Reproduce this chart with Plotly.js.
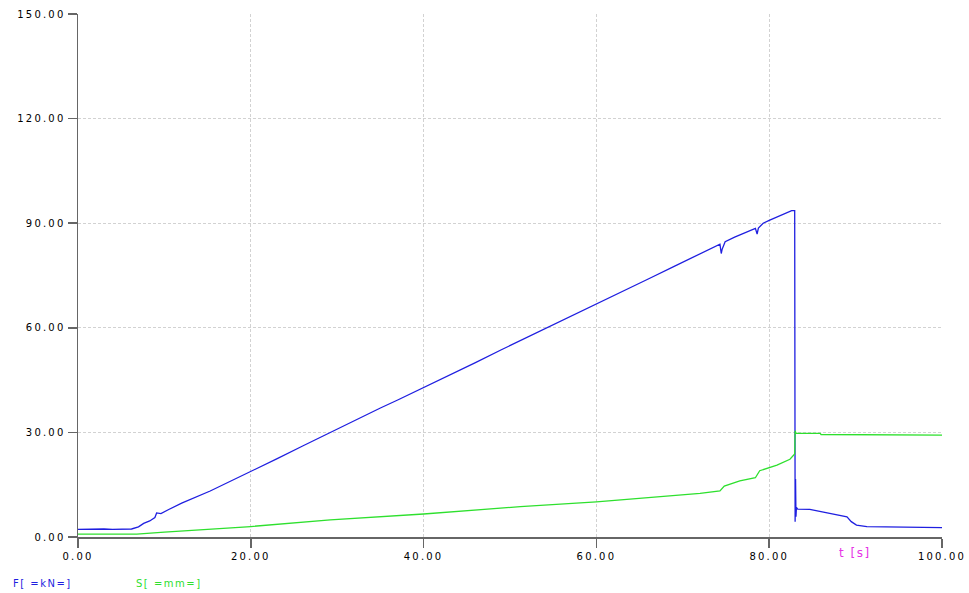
<!DOCTYPE html>
<html>
<head>
<meta charset="utf-8">
<script src="https://cdn.plot.ly/plotly-3.0.1.min.js"></script>
<style>
html,body{margin:0;padding:0;background:#fff;}
#chart{width:969px;height:593px;}
.xtick text,.ytick text{letter-spacing:2.2px;}
.annotation-text{letter-spacing:1.5px;}
</style>
</head>
<body>
<div id="chart"></div>
<script>
// Time axis (s) and force F (kN)
var tForce = [0, 1, 2, 3, 4, 5, 6.2, 7.0, 7.6, 8.3, 8.9, 9.1, 9.3, 9.6, 10.5, 12, 15.3, 17, 20, 23, 26, 29, 32, 35, 37, 40, 43, 46, 49, 52.3, 55, 57, 60, 63, 66, 69, 72, 74.3, 74.45, 74.55, 74.9, 76, 78.4, 78.6, 78.75, 79.3, 80, 81, 82.6, 82.95, 83.0, 83.05, 83.1, 83.15, 83.3, 84.7, 87, 89.0, 89.5, 90.1, 91.3, 95, 100];
var force  = [2.2, 2.3, 2.2, 2.3, 2.2, 2.2, 2.3, 2.9, 3.9, 4.6, 5.6, 6.9, 6.9, 6.7, 7.9, 9.7, 13.2, 15.2, 18.7, 22.4, 26.1, 29.8, 33.4, 37.0, 39.3, 42.8, 46.4, 50.0, 53.7, 57.6, 60.8, 63.2, 66.8, 70.4, 74.0, 77.6, 81.2, 84.0, 81.3, 82.5, 84.7, 86.0, 88.5, 86.9, 88.6, 90.0, 90.8, 91.8, 93.6, 93.6, 4.4, 16.6, 5.8, 8.5, 8.0, 7.9, 6.8, 5.8, 4.4, 3.4, 3.0, 2.8, 2.7];

// Time axis (s) and displacement S (mm)
var tDisp = [0, 3, 6.8, 10, 15.3, 20, 29.2, 40, 51.2, 60, 72, 74.3, 74.8, 76.6, 78.4, 78.9, 80.9, 82.4, 82.95, 83.0, 83.1, 85.9, 86.0, 89.0, 89.1, 100];
var disp  = [0.8, 0.8, 0.8, 1.4, 2.3, 3.0, 4.9, 6.6, 8.7, 10.1, 12.5, 13.2, 14.6, 16.1, 17.0, 19.0, 20.6, 22.3, 23.8, 30.5, 29.8, 29.7, 29.4, 29.4, 29.2, 29.2];

var xTicks = [0, 20, 40, 60, 80, 100];
var xTickText = ["0.00", "20.00", "40.00", "60.00", "80.00", "100.00"];
var yTicks = [0, 30, 60, 90, 120, 150];
var yTickText = ["0.00", "30.00", "60.00", "90.00", "120.00", "150.00"];

var traces = [
  {x: tForce, y: force, type: 'scatter', mode: 'lines', name: 'F[ =kN=]',
   line: {color: '#1f1fe0', width: 1.3}},
  {x: tDisp, y: disp, type: 'scatter', mode: 'lines', name: 'S[ =mm=]',
   line: {color: '#2ee02e', width: 1.3}}
];

var tickFont = {family: 'DejaVu Sans', size: 10, color: '#000'};

var layout = {
  width: 969, height: 593,
  margin: {l: 78, r: 27, t: 14, b: 56},
  paper_bgcolor: '#fff', plot_bgcolor: '#fff',
  showlegend: false,
  xaxis: {
    range: [0, 100], tickvals: xTicks, ticktext: xTickText,
    showgrid: true, gridcolor: '#d2d2d2', griddash: '3px,2px', gridwidth: 1,
    showline: true, linecolor: '#666', linewidth: 1.5,
    ticks: 'outside', ticklen: 9, tickcolor: '#666', tickwidth: 1.5,
    zeroline: false, tickfont: tickFont
  },
  yaxis: {
    range: [0, 150], tickvals: yTicks, ticktext: yTickText,
    showgrid: true, gridcolor: '#d2d2d2', griddash: '3px,2px', gridwidth: 1,
    showline: true, linecolor: '#666', linewidth: 1.5,
    ticks: 'outside', ticklen: 9, tickcolor: '#666', tickwidth: 1.5,
    zeroline: false, tickfont: tickFont
  },
  annotations: [
    {xref: 'paper', yref: 'paper', x: (855 - 78) / 864, y: -16 / 523, text: 't [s]',
     showarrow: false, xanchor: 'center', yanchor: 'middle',
     font: {family: 'DejaVu Sans', size: 12, color: '#e633e6'}},
    {xref: 'paper', yref: 'paper', x: (11 - 78) / 864, y: -46 / 523, text: 'F[ =kN=]',
     showarrow: false, xanchor: 'left', yanchor: 'middle',
     font: {family: 'DejaVu Sans', size: 10, color: '#1f1fe0'}},
    {xref: 'paper', yref: 'paper', x: (134 - 78) / 864, y: -46 / 523, text: 'S[ =mm=]',
     showarrow: false, xanchor: 'left', yanchor: 'middle',
     font: {family: 'DejaVu Sans', size: 10, color: '#2ee02e'}}
  ]
};

Plotly.newPlot('chart', traces, layout, {displayModeBar: false, staticPlot: true});
</script>
</body>
</html>
